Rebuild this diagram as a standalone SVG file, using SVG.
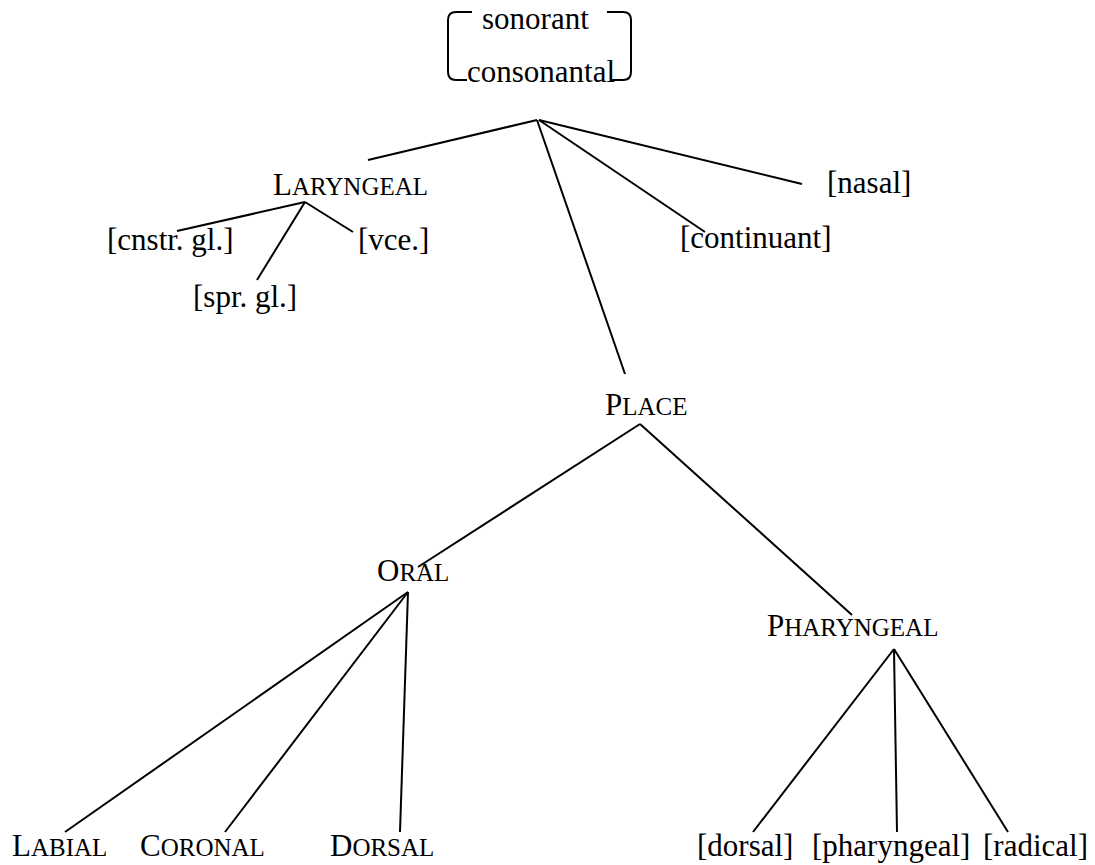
<svg xmlns="http://www.w3.org/2000/svg" width="1095" height="865" viewBox="0 0 1095 865">
<style>
text { font-family: "Liberation Serif", "Times New Roman", serif; font-size: 31px; fill: #000; }
.sc { font-size: 25px; }
.ln { stroke: #000; stroke-width: 2; fill: none; }
</style>
<rect width="1095" height="865" fill="#fff"/>
<g id="connectors">
<path class="ln" d="M472,12 H456 Q448,12 448,20 V72 Q448,80 456,80 H467"/>
<path class="ln" d="M607,12 H623 Q631,12 631,20 V72 Q631,80 623,80 H610"/>
<line class="ln" x1="537" y1="120" x2="368" y2="160"/>
<line class="ln" x1="537" y1="120" x2="625" y2="374"/>
<line class="ln" x1="539" y1="120" x2="705" y2="232"/>
<line class="ln" x1="539" y1="120" x2="802" y2="184"/>
<line class="ln" x1="305" y1="202" x2="177" y2="231"/>
<line class="ln" x1="305" y1="202" x2="257" y2="280"/>
<line class="ln" x1="305" y1="202" x2="353" y2="232"/>
<line class="ln" x1="640" y1="424" x2="418" y2="567"/>
<line class="ln" x1="640" y1="424" x2="852" y2="615"/>
<line class="ln" x1="408" y1="592" x2="65" y2="832"/>
<line class="ln" x1="408" y1="592" x2="225" y2="832"/>
<line class="ln" x1="408" y1="592" x2="400" y2="832"/>
<line class="ln" x1="894" y1="649" x2="753" y2="832"/>
<line class="ln" x1="894" y1="649" x2="897" y2="832"/>
<line class="ln" x1="894" y1="649" x2="1008" y2="832"/>
</g>
<g id="root">
<text x="482" y="29">sonorant</text>
<text x="467" y="82">consonantal</text>
</g>
<g id="laryngeal"><text x="273" y="195">L<tspan class="sc">ARYNGEAL</tspan></text></g>
<g id="cnstr"><text x="107" y="250">[cnstr. gl.]</text></g>
<g id="vce"><text x="358" y="250">[vce.]</text></g>
<g id="spr"><text x="193" y="307">[spr. gl.]</text></g>
<g id="nasal"><text x="827" y="193">[nasal]</text></g>
<g id="continuant"><text x="680" y="248">[continuant]</text></g>
<g id="place"><text x="605" y="415">P<tspan class="sc">LACE</tspan></text></g>
<g id="oral"><text x="377" y="581">O<tspan class="sc">RAL</tspan></text></g>
<g id="pharyngeal"><text x="767" y="636">P<tspan class="sc">HARYNGEAL</tspan></text></g>
<g id="labial"><text x="12" y="856">L<tspan class="sc">ABIAL</tspan></text></g>
<g id="coronal"><text x="140" y="856">C<tspan class="sc">ORONAL</tspan></text></g>
<g id="dorsal"><text x="330" y="856">D<tspan class="sc">ORSAL</tspan></text></g>
<g id="dorsal-f"><text x="697" y="856">[dorsal]</text></g>
<g id="pharyngeal-f"><text x="812" y="856">[pharyngeal]</text></g>
<g id="radical-f"><text x="983" y="856">[radical]</text></g>
</svg>
